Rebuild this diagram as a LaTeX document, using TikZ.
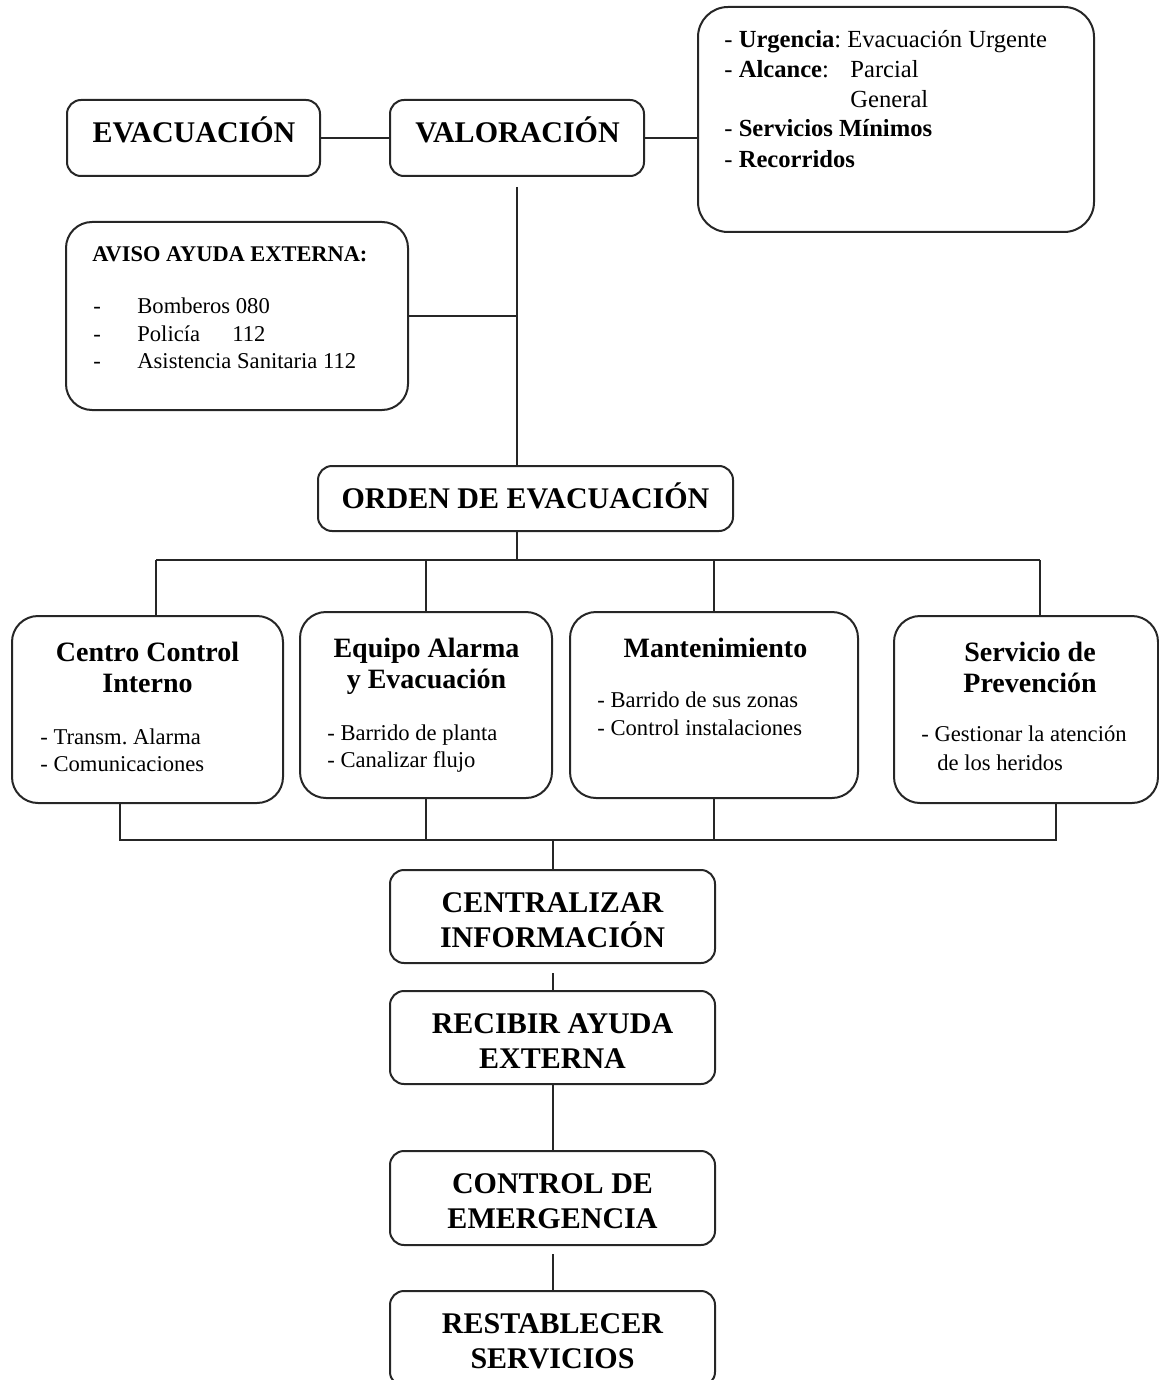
\documentclass[tikz,border=0pt]{standalone}
\usepackage{fontspec}
\setmainfont{Liberation Serif}
\frenchspacing
\begin{document}
\begin{tikzpicture}[x=0.5pt,y=-0.5pt]
\tikzset{
  caja/.style={draw=black!85, line width=1pt, rounded corners=#1, inner sep=0pt},
  caja/.default=7pt,
  linea/.style={draw=black!85, line width=1pt},
  titulo/.style={font=\fontsize{15}{17.5}\selectfont\bfseries, anchor=base, inner sep=0pt},
  cabeza/.style={font=\fontsize{14}{16}\selectfont\bfseries, anchor=base, inner sep=0pt},
  item/.style={font=\fontsize{11.3}{13.5}\selectfont, anchor=base west, inner sep=0pt},
  dato/.style={font=\fontsize{12.3}{15}\selectfont, anchor=base west, inner sep=0pt}
}
\useasboundingbox (0,0) rectangle (1159,1380);
\clip (0,0) rectangle (1159,1380);
% cajas
\node[caja, minimum width=126.5pt, minimum height=38pt] (evac) at (193.5,138) {};
\node[caja, minimum width=127pt, minimum height=38pt] (valor) at (517,138) {};
\node[caja=15pt, minimum width=198pt, minimum height=112.5pt] (alcance) at (896,119.5) {};
\node[caja=13pt, minimum width=171pt, minimum height=94pt] (aviso) at (237,316) {};
\node[caja, minimum width=207.5pt, minimum height=32.5pt] (orden) at (525.5,498.5) {};
\node[caja=13pt, minimum width=135.5pt, minimum height=93.5pt] (cci) at (147.5,709.5) {};
\node[caja=13pt, minimum width=126pt, minimum height=93pt] (equipo) at (426,705) {};
\node[caja=13pt, minimum width=144pt, minimum height=93pt] (mant) at (714,705) {};
\node[caja=13pt, minimum width=132pt, minimum height=93.5pt] (prev) at (1026,709.5) {};
\node[caja, minimum width=162.5pt, minimum height=46.5pt] (centr) at (552.5,916.5) {};
\node[caja, minimum width=162.5pt, minimum height=46.5pt] (recib) at (552.5,1037.5) {};
\node[caja, minimum width=162.5pt, minimum height=47pt] (ctrl) at (552.5,1198) {};
\node[caja, minimum width=162.5pt, minimum height=47.5pt] (rest) at (552.5,1338.5) {};
% textos
\node[titulo] (tevac) at (194,143) {EVACUACIÓN};
\node[titulo] (tvalor) at (517.5,143) {VALORACIÓN};
\node[titulo] (torden) at (525.5,508) {ORDEN DE EVACUACIÓN};
\node[dato] (u1) at (724,48) {- \textbf{Urgencia}: Evacuación Urgente};
\node[dato] (u2) at (724,78) {- \textbf{Alcance}:};
\node[dato] (u3) at (850,78) {Parcial};
\node[dato] (u4) at (850,108) {General};
\node[dato] (u5) at (724,137) {- \textbf{Servicios Mínimos}};
\node[dato] (u6) at (724,168) {- \textbf{Recorridos}};
\node[item, font=\fontsize{11.2}{13}\selectfont\bfseries] (aviso0) at (92,262) {AVISO AYUDA EXTERNA:};
\node[item] (aviso1) at (93,313) {\makebox[22pt][l]{-}Bomberos 080};
\node[item] (aviso2) at (93,341) {\makebox[22pt][l]{-}\makebox[47.5pt][l]{Policía}112};
\node[item] (aviso3) at (93,368) {\makebox[22pt][l]{-}Asistencia Sanitaria 112};
\node[cabeza] (cci1) at (147.5,661) {Centro Control};
\node[cabeza] (cci2) at (147.5,692) {Interno};
\node[item] (cci3) at (40,744) {- Transm. Alarma};
\node[item] (cci4) at (40,771) {- Comunicaciones};
\node[cabeza] (equipo1) at (426.5,657) {Equipo Alarma};
\node[cabeza] (equipo2) at (426.5,688) {y Evacuación};
\node[item] (equipo3) at (327,740) {- Barrido de planta};
\node[item] (equipo4) at (327,767) {- Canalizar flujo};
\node[cabeza] (mant1) at (715.5,657) {Mantenimiento};
\node[item] (mant2) at (597,707) {- Barrido de sus zonas};
\node[item] (mant3) at (597,735) {- Control instalaciones};
\node[cabeza] (prev1) at (1030,661) {Servicio de};
\node[cabeza] (prev2) at (1030,692) {Prevención};
\node[item] (prev3) at (921,741) {- Gestionar la atención};
\node[item] (prev4) at (937,770) {de los heridos};
\node[titulo] (centr1) at (552.5,912) {CENTRALIZAR};
\node[titulo] (centr2) at (552.5,947) {INFORMACIÓN};
\node[titulo] (recib1) at (552.5,1033) {RECIBIR AYUDA};
\node[titulo] (recib2) at (552.5,1068) {EXTERNA};
\node[titulo] (ctrl1) at (552.5,1193) {CONTROL DE};
\node[titulo] (ctrl2) at (552.5,1228) {EMERGENCIA};
\node[titulo] (rest1) at (552.5,1333) {RESTABLECER};
\node[titulo] (rest2) at (552.5,1368) {SERVICIOS};
% conexiones
\coordinate (busa) at (156,560);
\coordinate (busb) at (1040,560);
\coordinate (busc) at (120,840);
\coordinate (busd) at (1056,840);
\draw[linea] (evac) -- (valor);
\draw[linea] (valor.east) -- (valor.east -| alcance.west);
\draw[linea] ([yshift=-5pt]valor.south) -- (valor.south |- orden.north);
\draw[linea] (aviso.east) -- (aviso.east -| valor.south);
\draw[linea] (valor.south |- orden.south) -- (valor.south |- busa);
\draw[linea] (busa) -- (busb);
\draw[linea] (busa) -- (busa |- cci.north);
\draw[linea] (equipo.north |- busa) -- (equipo.north);
\draw[linea] (mant.north |- busa) -- (mant.north);
\draw[linea] (busb) -- (busb |- prev.north);
\draw[linea] (busc |- cci.south) -- (busc) -- (busd) -- (busd |- prev.south);
\draw[linea] (equipo.south) -- (equipo.south |- busc);
\draw[linea] (mant.south) -- (mant.south |- busc);
\draw[linea] (centr.north |- busc) -- (centr.north);
\draw[linea] ([yshift=-4.5pt]centr.south) -- (recib.north);
\draw[linea] (recib.south) -- (ctrl.north);
\draw[linea] ([yshift=-4pt]ctrl.south) -- (rest.north);
\end{tikzpicture}
\end{document}
